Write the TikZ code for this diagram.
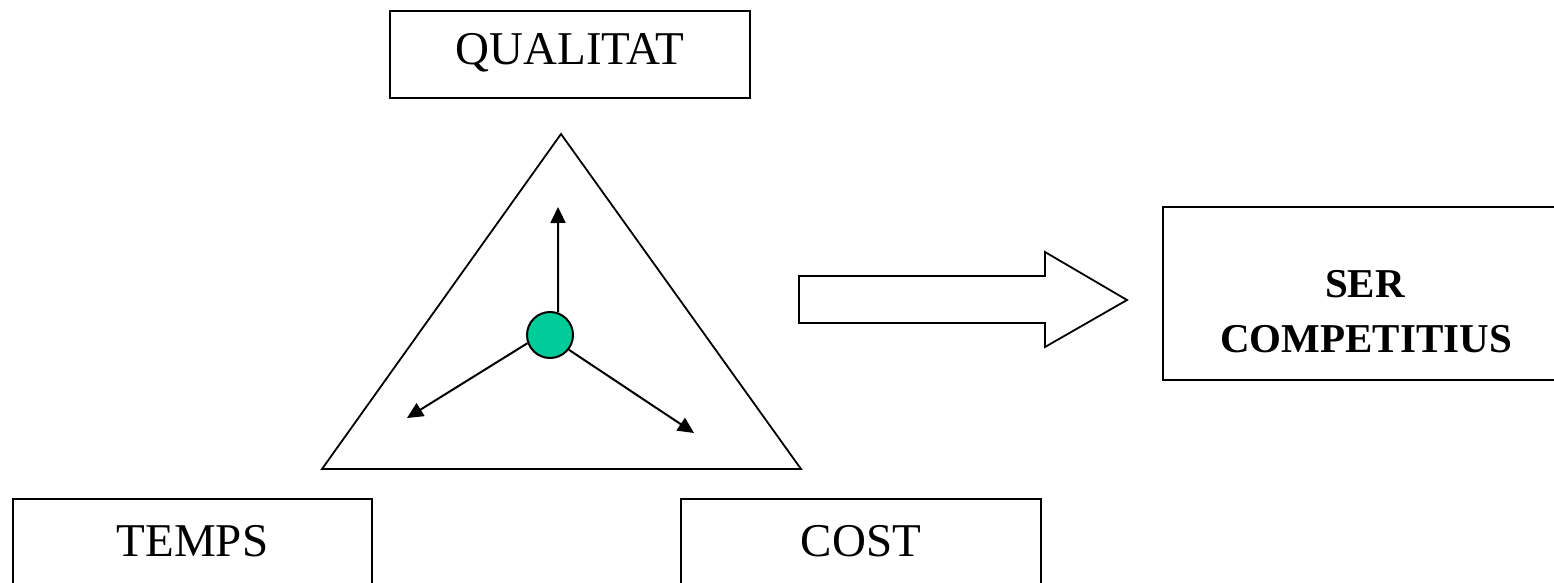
\documentclass[tikz,border=0pt]{standalone}
\usepackage{fontspec}
\setmainfont{Liberation Serif}
\usetikzlibrary{arrows.meta}
\definecolor{dotgreen}{RGB}{0,204,153}
\tikzset{
  box/.style={draw=black, line width=2pt, fill=white, inner sep=0pt, font=\fontsize{47}{51}\selectfont},
  boldtxt/.style={inner sep=0pt, font=\fontsize{41}{46}\selectfont\bfseries},
  spoke/.style={line width=2pt, -{Triangle[length=16pt,width=15pt]}},
  outline/.style={draw=black, line width=1.8pt, line join=miter}
}
\begin{document}
\begin{tikzpicture}[x=1pt,y=-1pt]
\useasboundingbox (0,0) rectangle (1554,583);
\clip (0,0) rectangle (1554,583);
% top box
\node[box, minimum width=360pt, minimum height=87pt, text height=31pt, text depth=10pt] (qual) at (570,54.5) {QUALITAT};
% bottom boxes
\node[box, minimum width=359pt, minimum height=96pt, text height=33pt, text depth=14pt] (temps) at (192.5,547) {TEMPS};
\node[box, minimum width=360pt, minimum height=96pt, text height=33pt, text depth=14pt] (cost) at (861,547) {COST};
% right box
\node[box, minimum width=400pt, minimum height=173pt] (ser) at (1363,293.5) {};
\node[boldtxt, anchor=base] (ser1) at (1365,297) {SER};
\node[boldtxt, anchor=base] (ser2) at (1366,352) {COMPETITIUS};
% triangle
\draw[outline] (561,134) -- (322,469) -- (801,469) -- cycle;
% big arrow
\draw[outline] (799,276) -- (1045,276) -- (1045,252) -- (1127,300) -- (1045,347) -- (1045,323) -- (799,323) -- cycle;
% centre dot and spokes
\node[circle, draw=black, line width=2pt, fill=dotgreen, minimum size=46pt, inner sep=0pt] (dot) at (550,335) {};
\coordinate (tq) at (558,207);
\coordinate (tt) at (407,418);
\coordinate (tc) at (694,433);
\draw[spoke] (dot.70) -- (tq);
\draw[spoke] (dot.200) -- (tt);
\draw[spoke] (dot.322) -- (tc);
\end{tikzpicture}
\end{document}
